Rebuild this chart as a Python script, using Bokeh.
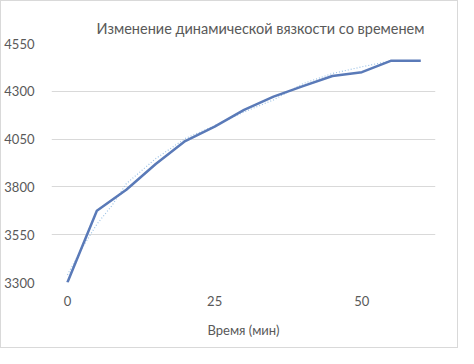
from bokeh.plotting import figure
from bokeh.models import FixedTicker, Range1d, Title
from bokeh.embed import file_html
from bokeh.resources import INLINE

time_min = [0, 5, 10, 15, 20, 25, 30, 35, 40, 45, 50, 55, 60]
viscosity = [3300, 3675, 3785, 3920, 4040, 4115, 4203, 4272, 4327, 4380, 4400, 4460, 4460]
trend_x = [0, 2.5, 5, 7.5, 10, 15, 20, 25, 30, 35, 40, 45, 50, 55, 60]
trend_y = [3340, 3480, 3605, 3700, 3817, 3948, 4053, 4120, 4192, 4255, 4340, 4393, 4428, 4460, 4458]
x_ticks = [0, 25, 50]
y_ticks = [3300, 3550, 3800, 4050, 4300, 4550]

FONT = "Lato"
TXT = "#595959"

p = figure(width=458, height=348, output_backend="svg", toolbar_location=None,
           x_range=Range1d(-2.7, 62.5), y_range=Range1d(3300, 4550),
           min_border_left=41, min_border_right=24, min_border_top=42, min_border_bottom=67)
p.styles = {"border": "1px solid #d9d9d9", "box-sizing": "border-box"}

p.outline_line_color = None
p.background_fill_color = "white"
p.border_fill_color = "white"

t = Title(text="Изменение динамической вязкости со временем", align="right", offset=11,
          text_font=FONT, text_font_size="14.5px", text_font_style="normal", text_color=TXT,
          standoff=14)
p.add_layout(t, "above")

p.xaxis.ticker = FixedTicker(ticks=x_ticks)
p.yaxis.ticker = FixedTicker(ticks=y_ticks)
for ax in (p.xaxis[0], p.yaxis[0]):
    ax.axis_line_color = None
    ax.major_tick_line_color = None
    ax.minor_tick_line_color = None
    ax.major_label_text_font = FONT
    ax.major_label_text_font_size = "13px"
    ax.major_label_text_color = TXT
p.yaxis.major_label_standoff = 11
p.xaxis.major_label_standoff = 7
p.xaxis.axis_label = "Время (мин)"
p.xaxis.axis_label_text_font = FONT
p.xaxis.axis_label_text_font_size = "13px"
p.xaxis.axis_label_text_font_style = "normal"
p.xaxis.axis_label_text_color = TXT
p.xaxis.axis_label_standoff = 13

p.xgrid.grid_line_color = None
p.ygrid.grid_line_color = "#d9d9d9"
p.ygrid.grid_line_width = 1

p.line(trend_x, trend_y, line_color="#9dc3e6", line_width=1.2, line_dash="1 2")
p.line(time_min, viscosity, line_color="#5a7ab8", line_width=2.5, line_join="round")

open("out.html", "w").write(file_html(p, INLINE))
